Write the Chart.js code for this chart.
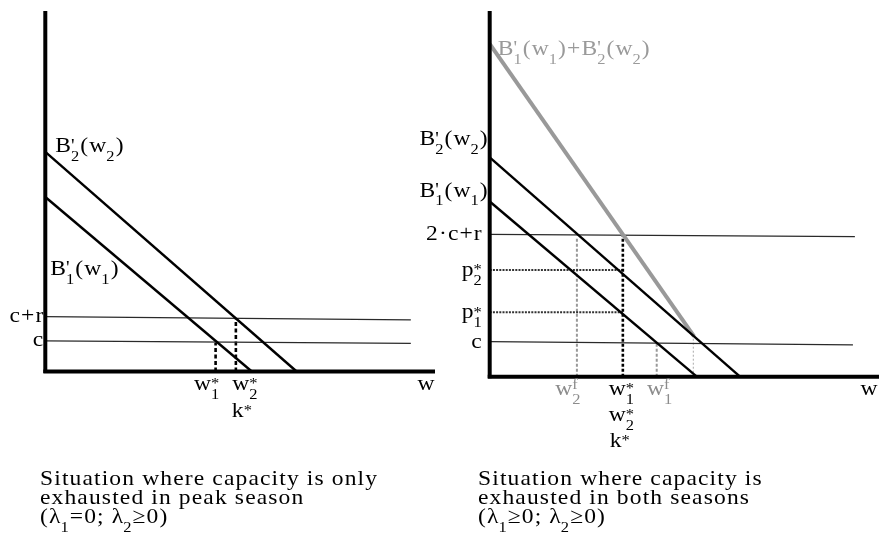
<!DOCTYPE html>
<html>
<head>
<meta charset="utf-8">
<script src="https://cdn.jsdelivr.net/npm/chart.js@4.4.1/dist/chart.umd.min.js"></script>
<style>
  html, body { margin: 0; padding: 0; background: #fff; }
  #wrap { position: relative; width: 879px; height: 541px; overflow: hidden; background: #fff; }
  #left  { position: absolute; left: 0;     top: 0; }
  #right { position: absolute; left: 400px; top: 0; }
</style>
</head>
<body>
<div id="wrap">
  <canvas id="left" width="440" height="541"></canvas>
  <canvas id="right" width="479" height="541"></canvas>
</div>
<script>
// ---------- Left panel: capacity exhausted only in the peak season ----------
const leftB2 = [{x: 0, y: 60.9}, {x: 64.5, y: 0}];      // B'2(w2)
const leftB1 = [{x: 0, y: 48.4}, {x: 53.0, y: 0}];      // B'1(w1)
const leftCR = [{x: 0, y: 15.2}, {x: 93.8, y: 14.3}];   // c+r
const leftC  = [{x: 0, y: 8.5},  {x: 93.8, y: 7.8}];    // c
const leftOptX   = [43.7, 48.9];                        // w1*, w2* (= k*)
const leftOptTop = [8.0, 14.6];
const leftYTickValues = [15.2, 8.5];
const leftYTickLabels = ['c+r', 'c'];
const leftXTickLabels = [['w_1^*'], ['w_2^*', 'k^*']];
const leftCaption = ['Situation where capacity is only', 'exhausted in peak season', '(\u03bb_1=0; \u03bb_2\u22650)'];

// ---------- Right panel: capacity exhausted in both seasons ----------
const rightSum = [{x: 0, y: 91.0}, {x: 52.5, y: 11.0}]; // B'1(w1)+B'2(w2)
const rightB2  = [{x: 0, y: 60.0}, {x: 64.3, y: 0}];
const rightB1  = [{x: 0, y: 47.9}, {x: 53.2, y: 0}];
const right2CR = [{x: 0, y: 38.9}, {x: 93.8, y: 38.3}]; // 2·c+r
const rightC   = [{x: 0, y: 9.6},  {x: 93.3, y: 8.7}];  // c
const rightPrices = [29.2, 17.6];                       // p2*, p1*
const rightOptX = 34.2, rightOptTop = 38.6;             // w1* = w2* = k*
const rightFreeX = [22.4, 42.9];                        // w2f, w1f
const rightFreeTop = [37.8, 9.0];
const rightKinkX = 52.3, rightKinkTop = 11.0;
const rightYTickValues = [38.9, 29.2, 17.6, 9.6];
const rightYTickLabels = ['2\u00b7c+r', 'p_2^*', 'p_1^*', 'c'];
const rightXTickValues = [22.4, 34.2, 42.9];
const rightXTickLabels = [['w_2^f'], ['w_1^*', 'w_2^*', 'k^*'], ['w_1^f']];
const rightCaption = ['Situation where capacity is', 'exhausted in both seasons', '(\u03bb_1\u22650; \u03bb_2\u22650)'];

// ---------- text helpers (base glyph with stacked sub/superscript) ----------
const FONT = '"Liberation Serif", "Times New Roman", serif';
const SIZE = 22;
const SX = 1.07;   // slight horizontal widening of the face
let LS = 0;        // extra tracking between glyphs

function parseRich(s) {
  const segs = [];
  for (let i = 0; i < s.length; i++) {
    const ch = s[i];
    if ((ch === '_' || ch === '^') && segs.length && i + 1 < s.length) {
      segs[segs.length - 1][ch === '_' ? 'sub' : 'sup'] = s[i + 1];
      i++;
      continue;
    }
    segs.push({b: ch});
  }
  return segs;
}
function supShift(ch, size) {
  if (ch === '*') return -size * 0.08;
  if (ch === "'") return -size * 0.02;
  return -size * 0.26;
}
function supSize(ch, size) { return ch === "'" ? size * 0.85 : size * 0.7; }
function segWidth(ctx, g, size) {
  ctx.font = size + 'px ' + FONT;
  let w = ctx.measureText(g.b).width;
  if (g.sub || g.sup) {
    let ww = 0;
    ctx.font = (size * 0.7) + 'px ' + FONT;
    if (g.sub) ww = Math.max(ww, ctx.measureText(g.sub).width);
    if (g.sup) { ctx.font = supSize(g.sup, size) + 'px ' + FONT; ww = Math.max(ww, ctx.measureText(g.sup).width); }
    w += ww;
  }
  return w;
}
function richWidth(ctx, segs, size, ls) {
  let w = 0;
  segs.forEach((g, i) => { w += segWidth(ctx, g, size) + (i < segs.length - 1 ? ls : 0); });
  return w;
}
function drawRich(ctx, s, x, y, o) {
  o = o || {};
  const size = o.size || SIZE;
  const segs = parseRich(s);
  const w = richWidth(ctx, segs, size, LS) * SX;
  const x0 = o.align === 'right' ? x - w : o.align === 'center' ? x - w / 2 : x;
  ctx.save();
  ctx.translate(x0, y);
  ctx.scale(SX, 1);
  ctx.fillStyle = o.color || '#000';
  ctx.textAlign = 'left';
  ctx.textBaseline = 'alphabetic';
  let cx = 0;
  for (const g of segs) {
    ctx.font = size + 'px ' + FONT;
    ctx.fillText(g.b, cx, 0);
    let adv = ctx.measureText(g.b).width;
    if (g.sub || g.sup) {
      let ww = 0;
      ctx.font = (size * 0.7) + 'px ' + FONT;
      if (g.sub) { ctx.fillText(g.sub, cx + adv, size * 0.40); ww = Math.max(ww, ctx.measureText(g.sub).width); }
      if (g.sup) {
        ctx.font = supSize(g.sup, size) + 'px ' + FONT;
        ctx.fillText(g.sup, cx + adv, supShift(g.sup, size));
        ww = Math.max(ww, ctx.measureText(g.sup).width);
      }
      adv += ww;
    }
    cx += adv + LS;
  }
  ctx.restore();
}
(function () {
  // tracking so that the caption's first line runs to its set measure
  const c = document.createElement('canvas').getContext('2d');
  const segs = parseRich('Situation where capacity is only');
  const plain = richWidth(c, segs, SIZE, 0);
  LS = Math.max(0, (337 / SX - plain) / (segs.length - 1));
})();

// ---------- chart construction ----------
function seg(data, color, width, dash) {
  return {data, showLine: true, borderColor: color, borderWidth: width, borderDash: dash || [],
          pointRadius: 0, pointHoverRadius: 0, fill: false, clip: false, tension: 0, borderCapStyle: 'butt'};
}
function annotator(cfg) {
  return {
    id: 'annotate',
    afterDatasetsDraw(chart) {
      const ctx = chart.ctx, xs = chart.scales.x, ys = chart.scales.y;
      const ax = xs.getPixelForValue(0), ay = ys.getPixelForValue(0);
      cfg.yTicks.values.forEach((v, i) =>
        drawRich(ctx, cfg.yTicks.labels[i], ax - cfg.yTicks.gap, ys.getPixelForValue(v) + cfg.yTicks.dy, {align: 'right'}));
      cfg.xTicks.values.forEach((v, i) =>
        cfg.xTicks.labels[i].forEach((line, j) =>
          drawRich(ctx, line, xs.getPixelForValue(v) + cfg.xTicks.dx[i][j], ay + cfg.xTicks.first + j * cfg.xTicks.step,
                   {align: 'center', color: cfg.xTicks.colors[i]})));
      cfg.notes.forEach(n =>
        drawRich(ctx, n.text, xs.getPixelForValue(n.x) + n.dx, ys.getPixelForValue(n.y) + n.dy, {align: n.align, color: n.color}));
      cfg.caption.lines.forEach((l, i) =>
        drawRich(ctx, l, cfg.caption.x, cfg.caption.y + i * cfg.caption.step, {align: 'left'}));
    }
  };
}
function makeChart(id, datasets, padding, annot) {
  return new Chart(document.getElementById(id), {
    type: 'scatter',
    data: {datasets},
    options: {
      responsive: false, animation: false, devicePixelRatio: 1,
      events: [],
      layout: {padding},
      plugins: {legend: {display: false}, tooltip: {enabled: false}},
      scales: {
        x: {type: 'linear', min: 0, max: 100, display: false},
        y: {type: 'linear', min: 0, max: 100, display: false}
      }
    },
    plugins: [annotator(annot)]
  });
}

const BLACK = '#000', THIN = '#2a2a2a', GREY = '#999';

// left panel
makeChart('left', [
  seg([{x: -0.5, y: 0}, {x: 100, y: 0}], BLACK, 4),
  seg([{x: 0, y: -0.4}, {x: 0, y: 100}], BLACK, 4),
  seg(leftB2, BLACK, 2.4),
  seg(leftB1, BLACK, 2.4),
  seg(leftCR, THIN, 1.3),
  seg(leftC, THIN, 1.3),
  ...leftOptX.map((x, i) => seg([{x, y: 0}, {x, y: leftOptTop[i]}], BLACK, 2.6, [4, 2.5]))
], {left: 45.3, right: 5, top: 11, bottom: 169.5}, {
  yTicks: {values: leftYTickValues, labels: leftYTickLabels, gap: 2, dy: 5},
  xTicks: {values: leftOptX, labels: leftXTickLabels, dx: [[-9], [9, 6]], first: 18.5, step: 26.5, colors: [BLACK, BLACK]},
  notes: [
    {text: "B^'_2(w_2)", x: 0, y: 60.9, dx: 10, dy: 0, align: 'left'},
    {text: "B^'_1(w_1)", x: 0, y: 26.8, dx: 5, dy: 0, align: 'left'},
    {text: 'w', x: 100, y: 0, dx: -9, dy: 18.5, align: 'center'}
  ],
  caption: {lines: leftCaption, x: 40, y: 485, step: 19}
});

// right panel
makeChart('right', [
  seg([{x: -0.5, y: 0}, {x: 100, y: 0}], BLACK, 4),
  seg([{x: 0, y: -0.4}, {x: 0, y: 100}], BLACK, 4),
  seg(rightB2, BLACK, 2.4),
  seg(rightB1, BLACK, 2.4),
  seg(rightSum, GREY, 4),
  seg(right2CR, THIN, 1.3),
  seg(rightC, THIN, 1.3),
  seg([{x: rightOptX, y: 0}, {x: rightOptX, y: rightOptTop}], BLACK, 2.6, [3, 2]),
  ...rightPrices.map(p => seg([{x: 0, y: p}, {x: rightOptX, y: p}], '#333', 2, [2, 1.2])),
  ...rightFreeX.map((x, i) => seg([{x, y: 0}, {x, y: rightFreeTop[i]}], GREY, 2, [3, 2])),
  seg([{x: rightKinkX, y: 0}, {x: rightKinkX, y: rightKinkTop}], '#aaa', 1, [2, 2])
], {left: 89.7, right: 0, top: 11, bottom: 164.3}, {
  yTicks: {values: rightYTickValues, labels: rightYTickLabels, gap: 8, dy: 6},
  xTicks: {values: rightXTickValues, labels: rightXTickLabels, dx: [[-9], [-1.5, -1.5, -3], [3]], first: 18.3, step: 26, colors: ['#8c8c8c', BLACK, '#8c8c8c']},
  notes: [
    {text: "B^'_2(w_2)", x: 0, y: 60.0, dx: -2, dy: -12, align: 'right'},
    {text: "B^'_1(w_1)", x: 0, y: 47.9, dx: -2, dy: -5, align: 'right'},
    {text: "B^'_1(w_1)+B^'_2(w_2)", x: 0, y: 91.0, dx: 8, dy: 11, align: 'left', color: '#9a9a9a'},
    {text: 'w', x: 100, y: 0, dx: -10, dy: 18.3, align: 'center'}
  ],
  caption: {lines: rightCaption, x: 78, y: 485, step: 19}
});
</script>
</body>
</html>
